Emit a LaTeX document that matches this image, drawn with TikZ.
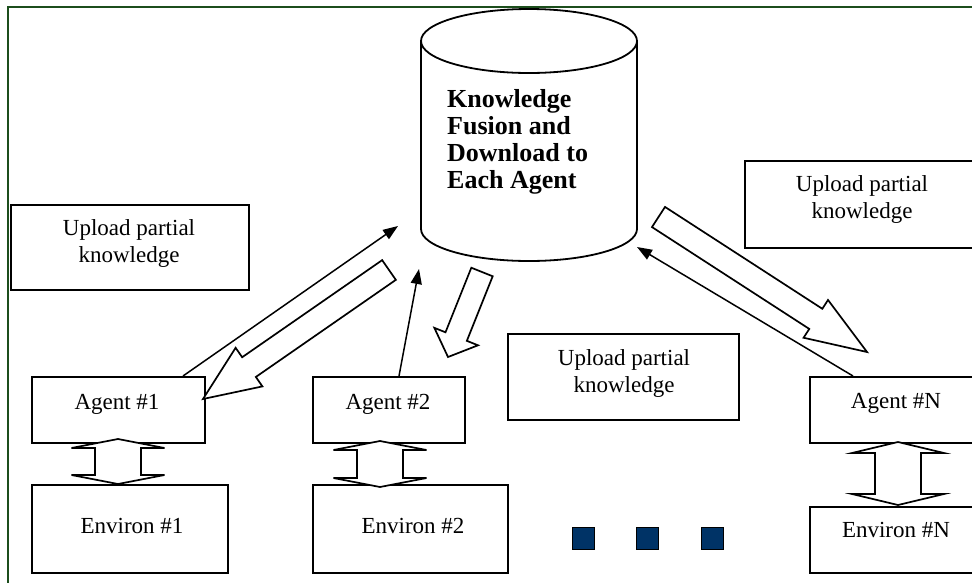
\documentclass[tikz,border=0pt]{standalone}
\usepackage{fontspec}
\setmainfont{Liberation Serif}
\usetikzlibrary{calc,arrows.meta}
\definecolor{framegreen}{RGB}{28,78,28}
\definecolor{sqnavy}{RGB}{0,51,102}
\tikzset{
  box/.style={draw=black, line width=1.8pt, inner sep=0pt, anchor=north west},
  lbl/.style={font=\fontsize{23}{27}\selectfont, anchor=base, inner sep=0pt},
  boldlbl/.style={font=\fontsize{26}{27}\selectfont\bfseries, anchor=base west, inner sep=0pt},
  thinarrow/.style={draw=black, line width=1.5pt, -{Triangle[length=15pt,width=11pt]}},
  blockarr/.style={draw=black, line width=1.7pt, fill=white, line join=miter},
  sq/.style={draw=black, line width=0.6pt, fill=sqnavy, minimum size=22pt, inner sep=0pt}
}
% #1 tail centre, #2 tip, #3 shaft half width, #4 head half width, #5 head length
\newcommand\myblockarrow[5]{%
  \path ($(#2)!#5pt!(#1)$) coordinate (bah);
  \draw[blockarr] ($(#1)!#3pt!90:(#2)$) -- ($(bah)!#3pt!-90:(#1)$) -- ($(bah)!#4pt!-90:(#1)$) -- (#2)
    -- ($(bah)!#4pt!90:(#1)$) -- ($(bah)!#3pt!90:(#1)$) -- ($(#1)!#3pt!-90:(#2)$) -- cycle;
}
% #1 centre x, #2 top tip y, #3 bottom tip y, #4 head half width, #5 shaft half width, #6 head length
\newcommand\myudarrow[6]{%
  \draw[blockarr] (#1,#2) -- ({#1+#4},{#2+#6}) -- ({#1+#5},{#2+#6}) -- ({#1+#5},{#3-#6})
    -- ({#1+#4},{#3-#6}) -- (#1,#3) -- ({#1-#4},{#3-#6}) -- ({#1-#5},{#3-#6})
    -- ({#1-#5},{#2+#6}) -- ({#1-#4},{#2+#6}) -- cycle;
}
\begin{document}
\begin{tikzpicture}[x=1pt,y=-1pt]
\useasboundingbox (0,0) rectangle (972,582);
\clip (0,0) rectangle (972,582);
\fill[white] (0,0) rectangle (972,582);
% frame
\draw[framegreen, line width=2pt] (8,7) rectangle (995,605);

% knowledge base cylinder
\node[inner sep=0pt, minimum width=216pt, minimum height=252pt, anchor=north west] (kb) at (421,9) {};
\draw[black, line width=1.8pt, fill=white] (421,41) -- (421,229) arc[start angle=180, end angle=0, x radius=108, y radius=32] -- (637,41);
\draw[black, line width=1.8pt] (529,41) ellipse [x radius=108, y radius=32];
\node[boldlbl] (kb1) at (447,107) {Knowledge};
\node[boldlbl] (kb2) at (447,134) {Fusion and};
\node[boldlbl] (kb3) at (447,161) {Download to};
\node[boldlbl] (kb4) at (447,188) {Each Agent};

% upload boxes
\node[box, minimum width=238pt, minimum height=85pt] (ul) at (10,204) {};
\node[lbl] (ul1) at (129,235) {Upload partial};
\node[lbl] (ul2) at (129,262) {knowledge};
\node[box, minimum width=231pt, minimum height=86pt] (um) at (507,333) {};
\node[lbl] (um1) at (624,365) {Upload partial};
\node[lbl] (um2) at (624,392) {knowledge};
\node[box, minimum width=240pt, minimum height=87pt] (ur) at (744,160) {};
\node[lbl] (ur1) at (862,191) {Upload partial};
\node[lbl] (ur2) at (862,218) {knowledge};

% agents
\node[box, minimum width=173pt, minimum height=66pt] (a1) at (31,376) {};
\node[lbl] (a1t) at (117,409) {Agent \#1};
\node[box, minimum width=152pt, minimum height=66pt] (a2) at (312,376) {};
\node[lbl] (a2t) at (388,409) {Agent \#2};
\node[box, minimum width=175pt, minimum height=66pt] (an) at (809,376) {};
\node[lbl] (ant) at (896,408) {Agent \#N};

% environments
\node[box, minimum width=196pt, minimum height=88pt] (e1) at (31,484) {};
\node[lbl] (e1t) at (132,533) {Environ \#1};
\node[box, minimum width=195pt, minimum height=88pt] (e2) at (312,484) {};
\node[lbl] (e2t) at (413,533) {Environ \#2};
\node[box, minimum width=175pt, minimum height=66pt] (en) at (809,506) {};
\node[lbl] (ent) at (896,537) {Environ \#N};

% dots
\node[sq] (sq1) at (583,538) {};
\node[sq] (sq2) at (647,538) {};
\node[sq] (sq3) at (712,538) {};

% agent <-> environment
\myudarrow{118}{439}{484}{46.5}{23}{9}
\myudarrow{380}{441}{487}{46.5}{23}{9}
\myudarrow{898}{442}{505}{46}{23}{11}

% thin upload arrows
\coordinate (u1s) at (183,376);
\coordinate (u1e) at (398,226);
\coordinate (u2s) at (399,376);
\coordinate (u2e) at (419,269);
\coordinate (u3s) at (853,376);
\coordinate (u3e) at (637,247);
\draw[thinarrow] (u1s) -- (u1e);
\draw[thinarrow] (u2s) -- (u2e);
\draw[thinarrow] (u3s) -- (u3e);

% download block arrows
\coordinate (d1s) at (389,270);
\coordinate (d1e) at (203,399);
\coordinate (d2s) at (482,272);
\coordinate (d2e) at (448,357);
\coordinate (d3s) at (658.5,217);
\coordinate (d3e) at (867,352);
\myblockarrow{d1s}{d1e}{12}{23.5}{56}
\myblockarrow{d2s}{d2e}{11.5}{23.5}{22}
\myblockarrow{d3s}{d3e}{12}{22.5}{61}
\end{tikzpicture}
\end{document}
